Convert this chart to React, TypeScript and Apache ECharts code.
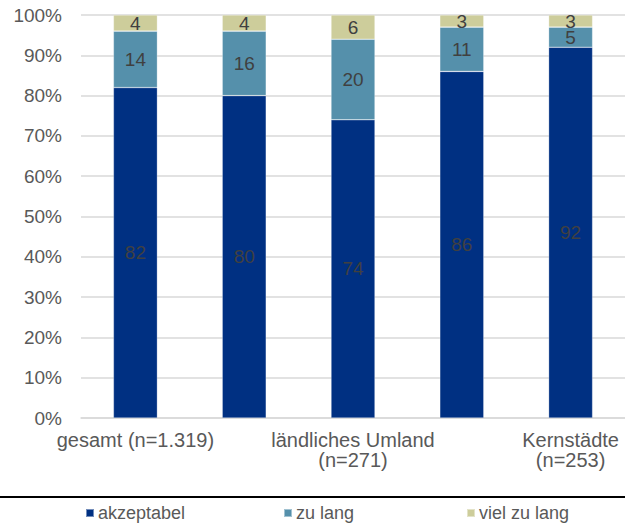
import React, { useEffect, useRef } from "react";
import * as echarts from "echarts";

const categories = ["gesamt (n=1.319)", "", "ländliches Umland\n(n=271)", "", "Kernstädte\n(n=253)"];
const akzeptabel = [82, 80, 74, 86, 92];
const zuLang = [14, 16, 20, 11, 5];
const vielZuLang = [4, 4, 6, 3, 3];
const yTicks = [0, 10, 20, 30, 40, 50, 60, 70, 80, 90, 100];

const COLORS = ["#003082", "#5590ab", "#cdcd9b"];
const FONT = "Liberation Sans, Arial, sans-serif";
const TEXT = "#595959";

export default function App() {
  const ref = useRef<HTMLDivElement>(null);

  useEffect(() => {
    document.body.style.margin = "0";
    if (!ref.current) return;
    const chart = echarts.init(ref.current, undefined, { renderer: "svg" });

    const mkSeries = (name: string, data: number[], color: string) => ({
      name,
      type: "bar",
      stack: "total",
      data,
      barWidth: 44,
      itemStyle: { color, borderColor: "rgba(255,255,255,0.45)", borderWidth: 0.6 },
      label: {
        show: true,
        position: "inside",
        color: "#404040",
        fontSize: 19,
        fontFamily: FONT,
      },
      emphasis: { disabled: true },
    });

    const legendItem = (name: string, left: number) => ({
      data: [name],
      left,
      top: 504,
      itemWidth: 8,
      itemHeight: 8,
      itemGap: 0,
      icon: "rect",
      selectedMode: false,
      textStyle: { color: TEXT, fontSize: 18, fontFamily: FONT, padding: [0, 0, 0, -1] },
      padding: 0,
    });

    chart.setOption({
      animation: false,
      textStyle: { fontFamily: FONT },
      grid: { left: 81, top: 15, width: 547, height: 403, containLabel: false },
      xAxis: {
        type: "category",
        data: categories,
        axisTick: { show: false },
        axisLine: { lineStyle: { color: "#d9d9d9", width: 1.5 } },
        axisLabel: {
          interval: 0,
          color: TEXT,
          fontSize: 20,
          fontFamily: FONT,
          margin: 12,
          lineHeight: 20,
        },
      },
      yAxis: {
        type: "value",
        min: yTicks[0],
        max: yTicks[yTicks.length - 1],
        interval: 10,
        axisLabel: {
          formatter: "{value}%",
          color: TEXT,
          fontSize: 19,
          fontFamily: FONT,
          margin: 19,
        },
        splitLine: { lineStyle: { color: "#d9d9d9", width: 1.5 } },
        axisLine: { show: false },
        axisTick: { show: false },
      },
      legend: [
        legendItem("akzeptabel", 85),
        legendItem("zu lang", 283),
        legendItem("viel zu lang", 466),
      ],
      graphic: [
        {
          type: "line",
          shape: { x1: 0, y1: 497, x2: 625, y2: 497 },
          style: { stroke: "#000", lineWidth: 2 },
        },
      ],
      series: [
        mkSeries("akzeptabel", akzeptabel, COLORS[0]),
        mkSeries("zu lang", zuLang, COLORS[1]),
        mkSeries("viel zu lang", vielZuLang, COLORS[2]),
      ],
    });

    return () => chart.dispose();
  }, []);

  return <div ref={ref} style={{ width: 625, height: 524 }} />;
}
